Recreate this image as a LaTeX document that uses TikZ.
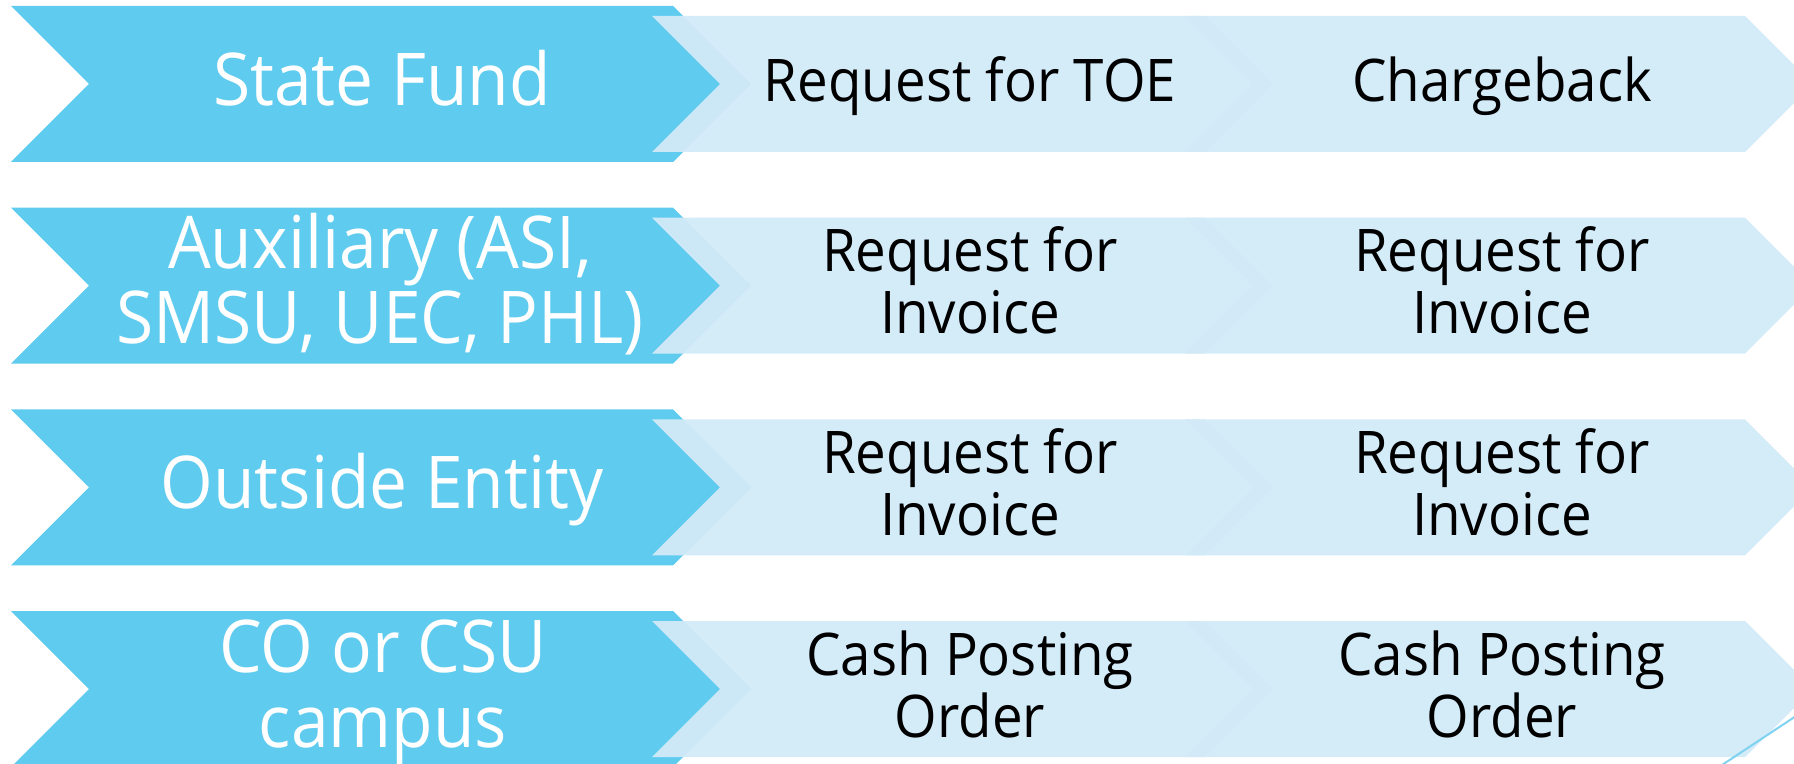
\documentclass[tikz,border=0pt]{standalone}
\usepackage{fontspec}
\setmainfont{Open Sans}[FakeStretch=0.93]
\definecolor{chevdark}{HTML}{5FCBEF}
\definecolor{chevlight}{HTML}{D2EAF8}
\definecolor{strayline}{HTML}{7FD3F0}
\tikzset{
  darkchev/.style={fill=chevdark},
  lightchev/.style={fill=chevlight, fill opacity=0.95},
  whitelbl/.style={text=white, inner sep=0pt, align=center,
    font=\fontsize{36.4}{37.5}\selectfont},
  blacklbl/.style={text=black, inner sep=0pt, align=center,
    font=\fontsize{29.4}{31}\selectfont},
}
\begin{document}
\begin{tikzpicture}[x=0.5pt,y=-0.5pt]
\useasboundingbox (0,0) rectangle (1794,764);
\clip (0,0) rectangle (1794,764);

% four rows of chevrons: a dark lead chevron followed by two light ones
\foreach \T in {6,207.7,409.3,611} {
  \pgfmathsetmacro\B{\T+156}
  \pgfmathsetmacro\M{\T+78}
  \pgfmathsetmacro\t{\T+10}
  \pgfmathsetmacro\b{\T+146}
  \fill[darkchev] (11,\T) -- (673,\T) -- (751,\M) -- (673,\B) -- (11,\B) -- (89,\M) -- cycle;
  \fill[lightchev] (652,\t) -- (1205,\t) -- (1273,\M) -- (1205,\b) -- (652,\b) -- (720,\M) -- cycle;
  \fill[lightchev] (1185,\t) -- (1745,\t) -- (1813,\M) -- (1745,\b) -- (1185,\b) -- (1253,\M) -- cycle;
}

% labels are placed by the baseline of their last line
% row 1
\node[whitelbl, anchor=base] (sf)  at (382,106) {State Fund};
\node[blacklbl, anchor=base] (toe) at (970,102) {Request for TOE};
\node[blacklbl, anchor=base] (cb)  at (1502,102) {Chargeback};

% row 2
\node[whitelbl, anchor=base] (aux)  at (380,344) {Auxiliary (ASI,\\SMSU, UEC, PHL)};
\node[blacklbl, anchor=base] (inv1) at (970,334) {Request for\\Invoice};
\node[blacklbl, anchor=base] (inv2) at (1502,334) {Request for\\Invoice};

% row 3
\node[whitelbl, anchor=base] (out)  at (382,509) {Outside Entity};
\node[blacklbl, anchor=base] (inv3) at (970,535) {Request for\\Invoice};
\node[blacklbl, anchor=base] (inv4) at (1502,535) {Request for\\Invoice};

% row 4
\node[whitelbl, anchor=base] (co)   at (383,747) {CO or CSU\\campus};
\node[blacklbl, anchor=base] (cpo1) at (970,737) {Cash Posting\\Order};
\node[blacklbl, anchor=base] (cpo2) at (1502,737) {Cash Posting\\Order};

% thin stroke at the lower right corner
\coordinate (s1) at (1722,765);
\coordinate (s2) at (1796,716);
\draw[strayline, line width=1pt] (s1) -- (s2);
\end{tikzpicture}
\end{document}
